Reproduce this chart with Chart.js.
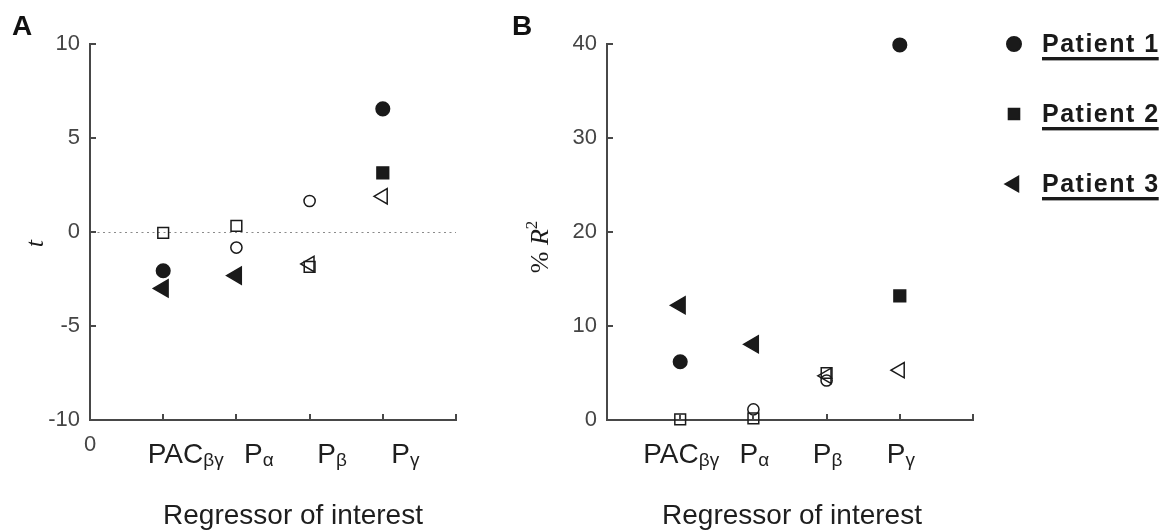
<!DOCTYPE html>
<html><head><meta charset="utf-8">
<script src="https://cdn.jsdelivr.net/npm/chart.js@4.4.1/dist/chart.umd.min.js"></script>
<style>
html,body{margin:0;padding:0;background:#fff;width:1167px;height:530px;overflow:hidden}
#wa{position:absolute;left:0;top:0;width:500px;height:530px}
#wb{position:absolute;left:500px;top:0;width:667px;height:530px}
</style></head><body>
<div id="wa"><canvas id="ca"></canvas></div>
<div id="wb"><canvas id="cb"></canvas></div>
<script>
// ---- data ----
const categories = ['PAC', 'P', 'P', 'P'];
const subscripts = ['βγ', 'α', 'β', 'γ'];
const patients = ['Patient 1', 'Patient 2', 'Patient 3'];
const xTitle = 'Regressor of interest';

// Panel A: t statistic
const tPatient1 = [-2.06, -0.83, 1.65, 6.55];
const tPatient2 = [-0.05, 0.32, -1.85, 3.15];
const tPatient3 = [-3.0, -2.32, -1.7, 1.9];
const tFilled1 = [true, false, false, true];
const tFilled2 = [false, false, false, true];
const tFilled3 = [true, true, false, false];
const tTicks = [-10, -5, 0, 5, 10];

// Panel B: % R^2
const rPatient1 = [6.2, 1.13, 4.2, 39.9];
const rPatient2 = [0.07, 0.18, 5.0, 13.2];
const rPatient3 = [12.2, 8.05, 4.7, 5.3];
const rFilled1 = [true, false, false, true];
const rFilled2 = [false, false, false, true];
const rFilled3 = [true, true, false, false];
const rTicks = [0, 10, 20, 30, 40];

// ---- style ----
const SANS = '"Liberation Sans", Arial, Helvetica, sans-serif';
const SERIF = '"Liberation Serif", "Times New Roman", serif';
const INK = '#1a1a1a';
const AXIS = '#484848';
const TICKC = '#454545';
const NONE = 'rgba(0,0,0,0)';
const markers = [
  {style: 'circle', rot: 0, rFill: 6.8, rOpen: 5.6},
  {style: 'rect', rot: 0, rFill: 8.3, rOpen: 7.6},
  {style: 'triangle', rot: -90, rFill: 9.8, rOpen: 8.8}
];

function makeDataset(i, vals, filled) {
  const m = markers[i];
  return {
    label: patients[i],
    data: vals.map((v, k) => ({x: k + 1, y: v})),
    pointStyle: m.style,
    pointRotation: m.rot,
    pointRadius: filled.map(f => f ? m.rFill : m.rOpen),
    pointHoverRadius: filled.map(f => f ? m.rFill : m.rOpen),
    pointBackgroundColor: filled.map(f => f ? INK : NONE),
    pointBorderColor: INK,
    pointBorderWidth: 1.5,
    showLine: false,
    clip: false
  };
}

function drawRuns(ctx, runs) {
  let total = 0;
  runs.forEach(r => { ctx.font = r.font; r.w = ctx.measureText(r.text).width; total += r.w; });
  let x = -total / 2;
  runs.forEach(r => { ctx.font = r.font; ctx.fillText(r.text, x, r.dy || 0); x += r.w; });
}

function panelPlugin(p) {
  return {
    id: 'panel' + p.letter,
    beforeDatasetsDraw(chart) {
      if (!p.zeroLine) return;
      const ctx = chart.ctx, a = chart.chartArea, y = chart.scales.y;
      const py = Math.round(y.getPixelForValue(0)) + 0.5;
      ctx.save();
      ctx.strokeStyle = '#8a8a8a'; ctx.lineWidth = 1; ctx.setLineDash([2, 3.5]);
      ctx.beginPath(); ctx.moveTo(a.left + 2, py); ctx.lineTo(a.right, py); ctx.stroke();
      ctx.restore();
    },
    afterDatasetsDraw(chart) {
      const ctx = chart.ctx, a = chart.chartArea, xs = chart.scales.x, ys = chart.scales.y;
      ctx.save();
      // inward tick marks
      ctx.strokeStyle = AXIS; ctx.lineWidth = 2;
      xs.ticks.forEach(t => {
        if (t.value === xs.min) return;
        const px = Math.round(xs.getPixelForValue(t.value));
        ctx.beginPath(); ctx.moveTo(px, a.bottom); ctx.lineTo(px, a.bottom - 6); ctx.stroke();
      });
      ys.ticks.forEach(t => {
        if (t.value === ys.min) return;
        const py = Math.round(ys.getPixelForValue(t.value));
        ctx.beginPath(); ctx.moveTo(a.left, py); ctx.lineTo(a.left + 6, py); ctx.stroke();
      });
      ctx.textAlign = 'left'; ctx.textBaseline = 'alphabetic';
      if (p.showZeroX) {
        ctx.fillStyle = TICKC; ctx.font = '22px ' + SANS; ctx.textAlign = 'center';
        ctx.fillText('0', xs.getPixelForValue(0), 451);
      }
      // category labels with subscripts
      ctx.fillStyle = '#1e1e1e';
      categories.forEach((c, k) => {
        const px = xs.getPixelForValue(k + 1) + p.labelShift;
        ctx.save(); ctx.translate(px, 463); ctx.textAlign = 'left';
        drawRuns(ctx, [{text: c, font: '28px ' + SANS}, {text: subscripts[k], font: '19px ' + SANS, dy: 3}]);
        ctx.restore();
      });
      // x title
      ctx.save(); ctx.translate((a.left + a.right) / 2 + p.titleShift, 524); ctx.textAlign = 'left';
      drawRuns(ctx, [{text: xTitle, font: '28px ' + SANS}]);
      ctx.restore();
      // y title (rotated)
      ctx.save(); ctx.fillStyle = INK; ctx.translate(p.yTitleX, p.yTitleY); ctx.rotate(-Math.PI / 2);
      drawRuns(ctx, p.yTitleRuns);
      ctx.restore();
      // panel letter
      ctx.fillStyle = '#111'; ctx.font = 'bold 28px ' + SANS; ctx.textAlign = 'left';
      ctx.fillText(p.letter, 12, 35);
      // legend
      if (p.legend) {
        chart.data.datasets.forEach((d, i) => {
          const cy = p.legend.y0 + i * p.legend.dy;
          const m = markers[i];
          ctx.fillStyle = INK; ctx.strokeStyle = INK;
          const opts = {pointStyle: m.style, rotation: m.rot, radius: p.legend.r[i], borderWidth: 1};
          if (Chart.helpers && Chart.helpers.drawPoint) {
            Chart.helpers.drawPoint(ctx, opts, p.legend.mx, cy);
          } else {
            ctx.beginPath(); ctx.arc(p.legend.mx, cy, opts.radius, 0, Math.PI * 2); ctx.fill();
          }
          ctx.font = 'bold 25px ' + SANS;
          try { ctx.letterSpacing = '1.5px'; } catch (e) {}
          ctx.textAlign = 'left'; ctx.textBaseline = 'alphabetic';
          const base = cy + 8;
          ctx.fillText(d.label, p.legend.tx, base);
          const w = ctx.measureText(d.label).width;
          try { ctx.letterSpacing = '0px'; } catch (e) {}
          ctx.fillRect(p.legend.tx, base + 5, w - 1, 3.4);
        });
      }
      ctx.restore();
    }
  };
}

function makeChart(id, sets, yMin, yMax, yStep, yWidth, padRight, plugin) {
  return new Chart(document.getElementById(id), {
    type: 'scatter',
    data: {datasets: sets},
    options: {
      responsive: true, maintainAspectRatio: false, animation: false,
      layout: {padding: {left: 0, top: 44, right: padRight, bottom: 0}},
      plugins: {legend: {display: false}, tooltip: {enabled: false}},
      scales: {
        x: {
          type: 'linear', min: 0, max: 5,
          ticks: {stepSize: 1, display: false},
          grid: {display: false, drawTicks: false},
          border: {display: true, color: AXIS, width: 2},
          afterFit: s => { s.height = 110; }
        },
        y: {
          type: 'linear', min: yMin, max: yMax,
          ticks: {stepSize: yStep, padding: 10, color: TICKC, font: {family: SANS, size: 22}},
          grid: {display: false, drawTicks: false},
          border: {display: true, color: AXIS, width: 2},
          afterFit: s => { s.width = yWidth; }
        }
      }
    },
    plugins: [plugin]
  });
}

makeChart('ca', [
  makeDataset(0, tPatient1, tFilled1),
  makeDataset(1, tPatient2, tFilled2),
  makeDataset(2, tPatient3, tFilled3)
], tTicks[0], tTicks[tTicks.length - 1], tTicks[1] - tTicks[0], 90, 44, panelPlugin({
  letter: 'A', zeroLine: true, showZeroX: true, labelShift: 22.5, titleShift: 20,
  yTitleX: 43, yTitleY: 240,
  yTitleRuns: [{text: 't', font: 'italic 26px ' + SERIF}]
}));

makeChart('cb', [
  makeDataset(0, rPatient1, rFilled1),
  makeDataset(1, rPatient2, rFilled2),
  makeDataset(2, rPatient3, rFilled3)
], rTicks[0], rTicks[rTicks.length - 1], rTicks[1] - rTicks[0], 107, 194, panelPlugin({
  letter: 'B', zeroLine: false, showZeroX: false, labelShift: 1, titleShift: 2,
  yTitleX: 48, yTitleY: 247,
  yTitleRuns: [{text: '% ', font: '26px ' + SERIF}, {text: 'R', font: 'italic 26px ' + SERIF}, {text: '2', font: '17px ' + SERIF, dy: -11}],
  legend: {mx: 514, tx: 542, y0: 44, dy: 70, r: [7, 7.5, 8.5]}
}));
</script>
</body></html>
